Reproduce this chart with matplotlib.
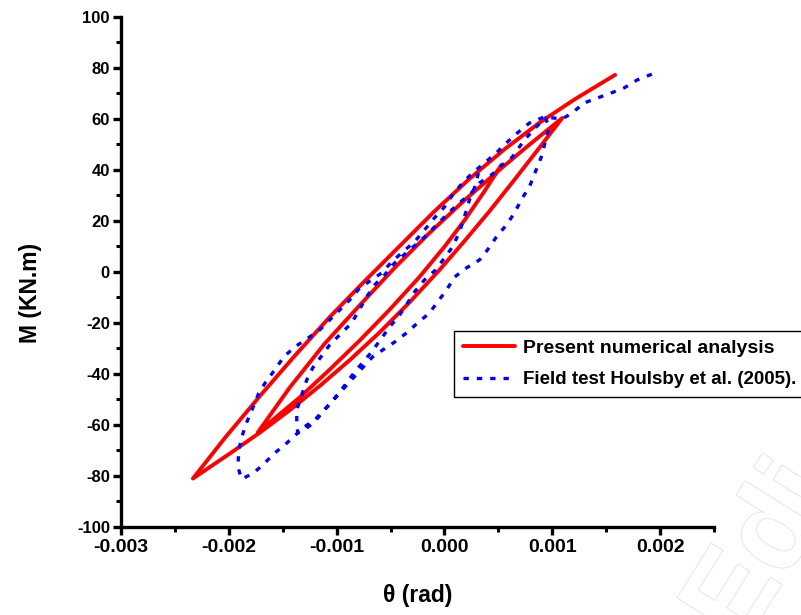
import numpy as np
import matplotlib
matplotlib.use("Agg")
import matplotlib.pyplot as plt
import matplotlib.patheffects as pe
from matplotlib.ticker import MultipleLocator, FormatStrFormatter

plt.rcParams["font.family"] = ["Liberation Sans", "DejaVu Sans"]
plt.rcParams["font.weight"] = "bold"
plt.rcParams["axes.unicode_minus"] = False

# Present numerical analysis (theta in mrad, M in kN.m)
# path: A -> B -> C -> D -> E
red_theta_mrad = [0.528, 0.370, 0.185, 0.0, -0.231, -0.509, -0.787, -1.065,
                  -1.343, -1.731,
                  -1.435, -1.111, -0.787, -0.463, -0.139, 0.185, 0.509, 0.787,
                  1.093,
                  0.880, 0.648, 0.417, 0.185, -0.046, -0.324, -0.602, -0.880,
                  -1.157, -1.435, -1.713, -1.991, -2.333,
                  -2.037, -1.713, -1.389, -1.065, -0.741, -0.417, -0.093,
                  0.231, 0.556, 0.880, 1.204, 1.583]
red_M = [42.0, 31.6, 20.2, 9.9, -1.9, -14.8, -26.9, -38.3,
         -49.2, -62.9,
         -45.3, -28.1, -13.1, 1.6, 15.3, 28.1, 40.0, 49.9,
         60.4,
         48.7, 36.1, 23.8, 12.1, 0.8, -11.9, -23.7, -34.6,
         -44.7, -54.2, -63.0, -71.2, -81.0,
         -65.1, -48.7, -32.9, -17.7, -3.6, 10.1, 23.8,
         36.5, 48.1, 58.5, 67.6, 77.3]

# Field test Houlsby et al. (2005)
blue_theta_mrad = [
    # first peak -> first trough
    0.315, 0.278, 0.231, 0.185, 0.139, 0.074, 0.0, -0.083, -0.185, -0.278,
    -0.343, -0.417, -0.509, -0.583, -0.676, -0.833, -0.972, -1.065, -1.204,
    -1.343, -1.361,
    # reload to second peak
    -1.370, -1.370, -1.324, -1.278, -1.222, -1.139, -1.065, -0.954, -0.861,
    -0.722, -0.648, -0.556, -0.463, -0.324, -0.185, -0.046, 0.046, 0.139,
    0.250, 0.324, 0.435, 0.537, 0.630, 0.741, 0.852, 0.935,
    # unload to second trough
    0.972, 0.898, 0.787, 0.722, 0.648, 0.574, 0.481, 0.398, 0.324, 0.204,
    0.093, 0.019, -0.065, -0.139, -0.250, -0.352, -0.463, -0.574, -0.667,
    -0.880, -1.046, -1.130, -1.204, -1.278, -1.361, -1.463, -1.574, -1.667,
    -1.769, -1.880,
    # reload to end
    -1.917, -1.907, -1.880, -1.833, -1.778, -1.722, -1.657, -1.574, -1.491,
    -1.389, -1.278, -1.157, -1.065, -0.972, -0.880, -0.787, -0.676, -0.583,
    -0.491, -0.389, -0.278, -0.185, -0.093, 0.0, 0.074, 0.167, 0.259, 0.370,
    0.481, 0.574, 0.676, 0.787, 0.926, 1.093, 1.185, 1.296, 1.417, 1.546,
    1.667, 1.787, 1.926]
blue_M = [
    38.8, 32.9, 28.2, 21.6, 15.7, 9.8, 5.5, 0.8, -3.1, -7.8,
    -12.2, -16.9, -21.6, -25.9, -31.4, -39.2, -47.1, -51.8, -58.0,
    -62.0, -63.1,
    -58.8, -54.1, -48.2, -42.4, -37.6, -32.9, -28.6, -23.9, -20.0,
    -9.8, -5.1, -1.2, 3.5, 8.6, 13.7, 19.6, 23.5, 27.1,
    31.0, 34.9, 38.0, 42.0, 45.1, 51.8, 56.9, 60.4,
    56.9, 45.1, 33.3, 29.0, 23.1, 18.4, 13.7, 8.6, 4.7, 1.6,
    -2.0, -7.1, -11.8, -16.1, -20.0, -23.9, -27.5, -30.6, -33.3,
    -43.1, -51.0, -54.9, -58.8, -61.2, -63.1, -67.1, -71.0, -74.9,
    -78.8, -81.2,
    -76.5, -69.8, -64.7, -58.8, -53.3, -47.5, -43.1, -38.4, -33.3,
    -29.4, -26.3, -22.7, -18.8, -14.9, -11.0, -6.3, -3.1, -0.4,
    3.9, 7.8, 11.8, 16.5, 21.2, 25.5, 30.2, 34.9, 38.8, 42.7,
    46.7, 50.6, 54.5, 58.4, 60.8, 60.0, 62.4, 66.3, 68.2, 70.2,
    72.2, 75.3, 77.6]

fig = plt.figure(figsize=(8.01, 6.15), dpi=100)
ax = fig.add_axes([0.1511, 0.1431, 0.7403, 0.8293])

# faint watermark in the lower right corner (cut by the figure edge)
fig.text(0.955, 0.10, "Edi", rotation=58, fontsize=85, color="white",
         ha="center", va="center", zorder=0,
         path_effects=[pe.withStroke(linewidth=1.2, foreground="#e2e2e2")])

ax.plot(np.array(red_theta_mrad) * 1e-3, red_M, color="#ff0000", lw=2.8,
        solid_joinstyle="round", solid_capstyle="round",
        label="Present numerical analysis")
ax.plot(np.array(blue_theta_mrad) * 1e-3, blue_M, color="#0000ff", lw=2.4,
        dashes=(1.6, 2.4), label="Field test Houlsby et al. (2005).")

ax.set_xlim(-0.003, 0.0025)
ax.set_ylim(-100, 100)
ax.xaxis.set_major_locator(MultipleLocator(0.001))
ax.xaxis.set_minor_locator(MultipleLocator(0.0005))
ax.yaxis.set_major_locator(MultipleLocator(20))
ax.yaxis.set_minor_locator(MultipleLocator(10))
ax.xaxis.set_major_formatter(FormatStrFormatter("%.3f"))

for s in ["top", "right"]:
    ax.spines[s].set_visible(False)
for s in ["left", "bottom"]:
    ax.spines[s].set_linewidth(2.4)

ax.tick_params(which="major", direction="out", length=6, width=2.4)
ax.tick_params(which="minor", direction="out", length=3.5, width=2.2)
ax.tick_params(axis="x", which="major", labelsize=14, pad=3)
ax.tick_params(axis="y", which="major", labelsize=12, pad=2)
for lab in ax.get_xticklabels() + ax.get_yticklabels():
    lab.set_fontweight("bold")

ax.set_xlabel("\u03b8 (rad)", fontsize=16.5, fontweight="bold", labelpad=20)
ax.set_ylabel("M (KN.m)", fontsize=16.5, fontweight="bold")
ax.yaxis.set_label_coords(-0.133, 0.459)

leg = ax.legend(loc="upper left", bbox_to_anchor=(0.567, 0.462),
                bbox_transform=fig.transFigure, frameon=True, fancybox=False,
                framealpha=1, edgecolor="black", borderaxespad=0,
                prop={"weight": "bold", "size": 14}, handlelength=2.7,
                handletextpad=0.4, labelspacing=0.7, borderpad=0.45)
leg.get_frame().set_linewidth(1.0)
leg.get_texts()[1].set_fontsize(13.5)

fig.savefig("out.png", dpi=100)
